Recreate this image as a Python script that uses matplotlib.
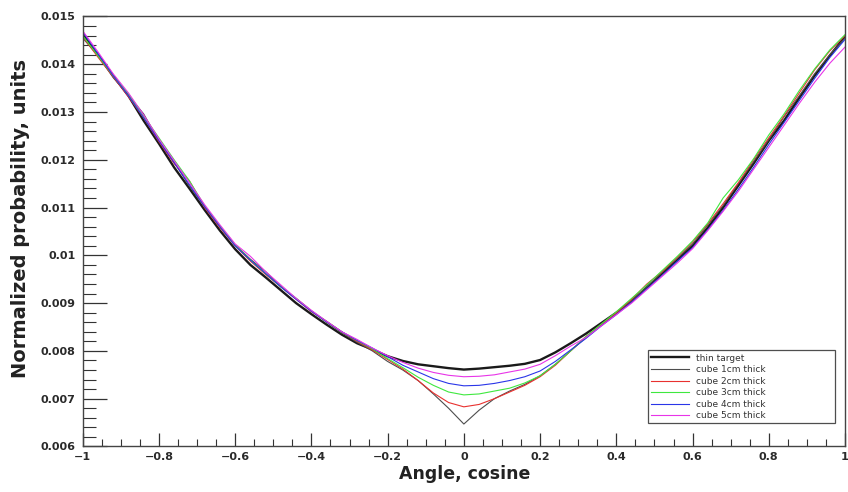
import numpy as np
import matplotlib
matplotlib.use("Agg")
import matplotlib.pyplot as plt
from matplotlib.ticker import MultipleLocator, FuncFormatter

# Bin centres of the angular distribution (cosine of the angle)
cos_angle = np.round(np.arange(-1.0, 1.0001, 0.04), 2)

thin_target = [
    0.01462, 0.01420, 0.01376, 0.01334, 0.01282, 0.01234, 0.01184, 0.01140, 0.01095, 0.01052,
    0.01013, 0.00980, 0.00954, 0.00927, 0.00900, 0.00877, 0.00855, 0.00834, 0.00816, 0.00803,
    0.00789, 0.00779, 0.00772, 0.00768, 0.00764, 0.00761, 0.00763, 0.00766, 0.00769, 0.00773,
    0.00781, 0.00797, 0.00816, 0.00836, 0.00858, 0.00880, 0.00904, 0.00933, 0.00962, 0.00990,
    0.01020, 0.01058, 0.01100, 0.01146, 0.01192, 0.01240, 0.01282, 0.01330, 0.01376, 0.01418,
    0.01458,
]
cube_1cm = [
    0.01455, 0.01418, 0.01372, 0.01335, 0.01296, 0.01240, 0.01195, 0.01145, 0.01102, 0.01060,
    0.01022, 0.00992, 0.00966, 0.00935, 0.00910, 0.00884, 0.00860, 0.00838, 0.00818, 0.00800,
    0.00778, 0.00760, 0.00738, 0.00710, 0.00680, 0.00647, 0.00676, 0.00700, 0.00716, 0.00730,
    0.00748, 0.00772, 0.00800, 0.00828, 0.00854, 0.00878, 0.00905, 0.00934, 0.00964, 0.00994,
    0.01024, 0.01064, 0.01104, 0.01150, 0.01196, 0.01242, 0.01290, 0.01334, 0.01380, 0.01420,
    0.01455,
]
cube_2cm = [
    0.01458, 0.01415, 0.01374, 0.01332, 0.01288, 0.01238, 0.01192, 0.01156, 0.01100, 0.01058,
    0.01020, 0.00988, 0.00960, 0.00934, 0.00908, 0.00882, 0.00862, 0.00840, 0.00820, 0.00802,
    0.00782, 0.00762, 0.00738, 0.00712, 0.00692, 0.00683, 0.00688, 0.00700, 0.00714, 0.00728,
    0.00746, 0.00770, 0.00800, 0.00830, 0.00855, 0.00880, 0.00908, 0.00940, 0.00966, 0.00996,
    0.01028, 0.01066, 0.01108, 0.01152, 0.01200, 0.01246, 0.01292, 0.01340, 0.01388, 0.01428,
    0.01460,
]
cube_3cm = [
    0.01460, 0.01418, 0.01376, 0.01338, 0.01292, 0.01246, 0.01200, 0.01156, 0.01104, 0.01062,
    0.01022, 0.00990, 0.00962, 0.00934, 0.00910, 0.00884, 0.00862, 0.00840, 0.00822, 0.00804,
    0.00784, 0.00765, 0.00745, 0.00728, 0.00714, 0.00708, 0.00710, 0.00716, 0.00722, 0.00733,
    0.00748, 0.00772, 0.00800, 0.00830, 0.00856, 0.00882, 0.00910, 0.00938, 0.00968, 0.00998,
    0.01030, 0.01068, 0.01120, 0.01158, 0.01202, 0.01252, 0.01296, 0.01345, 0.01390, 0.01430,
    0.01462,
]
cube_4cm = [
    0.01468, 0.01422, 0.01376, 0.01334, 0.01288, 0.01240, 0.01194, 0.01148, 0.01102, 0.01060,
    0.01020, 0.00990, 0.00962, 0.00934, 0.00908, 0.00883, 0.00861, 0.00840, 0.00822, 0.00806,
    0.00788, 0.00770, 0.00756, 0.00742, 0.00732, 0.00727, 0.00728, 0.00732, 0.00738, 0.00746,
    0.00758, 0.00778, 0.00802, 0.00826, 0.00852, 0.00876, 0.00902, 0.00930, 0.00958, 0.00988,
    0.01016, 0.01054, 0.01094, 0.01138, 0.01184, 0.01232, 0.01278, 0.01324, 0.01370, 0.01414,
    0.01452,
]
cube_5cm = [
    0.01470, 0.01426, 0.01380, 0.01340, 0.01294, 0.01244, 0.01198, 0.01152, 0.01106, 0.01064,
    0.01024, 0.00998, 0.00966, 0.00938, 0.00910, 0.00885, 0.00862, 0.00840, 0.00824, 0.00806,
    0.00790, 0.00776, 0.00764, 0.00755, 0.00749, 0.00746, 0.00747, 0.00750, 0.00756, 0.00762,
    0.00772, 0.00790, 0.00810, 0.00828, 0.00852, 0.00876, 0.00900, 0.00928, 0.00956, 0.00984,
    0.01014, 0.01052, 0.01092, 0.01134, 0.01180, 0.01226, 0.01272, 0.01318, 0.01362, 0.01402,
    0.01436,
]

series = [
    ("thin target", thin_target, "#1a1a1a", 1.7),
    ("cube 1cm thick", cube_1cm, "#4d4d4d", 0.8),
    ("cube 2cm thick", cube_2cm, "#e8312f", 0.8),
    ("cube 3cm thick", cube_3cm, "#3fe83f", 0.8),
    ("cube 4cm thick", cube_4cm, "#2a36e8", 0.8),
    ("cube 5cm thick", cube_5cm, "#e834e8", 0.8),
]

fig = plt.figure(figsize=(8.48, 4.92), dpi=100)
ax = fig.add_axes([0.0975, 0.0925, 0.899, 0.874])

for label, vals, color, lw in series:
    ax.plot(cos_angle, vals, color=color, lw=lw, label=label)

ax.set_xlim(-1, 1)
ax.set_ylim(0.006, 0.015)

ax.xaxis.set_major_locator(MultipleLocator(0.2))
ax.xaxis.set_minor_locator(MultipleLocator(0.05))
ax.yaxis.set_major_locator(MultipleLocator(0.001))
ax.yaxis.set_minor_locator(MultipleLocator(0.0002))


def fmt_x(v, _):
    v = round(v, 2)
    if abs(v) < 1e-9:
        return "0"
    if abs(abs(v) - 1) < 1e-9:
        return "\u22121" if v < 0 else "1"
    s = f"{abs(v):g}"
    return ("\u2212" if v < 0 else "") + s


def fmt_y(v, _):
    return f"{v:.3f}".rstrip("0") if round(v, 4) == 0.01 else f"{v:.3f}"


ax.xaxis.set_major_formatter(FuncFormatter(fmt_x))
ax.yaxis.set_major_formatter(FuncFormatter(fmt_y))

tick_color = "#333333"
ax.tick_params(axis="y", which="major", direction="in", length=17, width=0.9,
               color=tick_color, pad=5)
ax.tick_params(axis="y", which="minor", direction="in", length=9, width=0.8,
               color=tick_color)
ax.tick_params(axis="x", which="major", direction="in", length=9.5, width=0.9,
               color=tick_color, pad=4)
ax.tick_params(axis="x", which="minor", direction="in", length=5, width=0.8,
               color=tick_color)
for lab in ax.get_xticklabels() + ax.get_yticklabels():
    lab.set_fontfamily("DejaVu Sans")
    lab.set_fontweight("bold")
    lab.set_fontsize(8)
    lab.set_color("#2a2a2a")

for side in ["left", "bottom", "top", "right"]:
    ax.spines[side].set_color("#444444")
    ax.spines[side].set_linewidth(1.0)

fig.text(0.548, 0.018, "Angle, cosine", ha="center", va="bottom",
         fontsize=12.5, fontweight="bold", color="#222222", family="DejaVu Sans")
fig.text(0.024, 0.555, "Normalized probability, units", ha="center", va="center",
         rotation=90, fontsize=14, fontweight="bold", color="#222222",
         family="DejaVu Sans")

leg = ax.legend(loc="lower left", bbox_to_anchor=(0.7415, 0.0536, 0.2455, 0.1865),
                mode="expand", fontsize=6.5, frameon=True, fancybox=False,
                borderpad=0.35, labelspacing=0.28, handlelength=4.2,
                handletextpad=0.8, borderaxespad=0)
leg.get_frame().set_edgecolor("#222222")
leg.get_frame().set_linewidth(0.9)
for t in leg.get_texts():
    t.set_color("#333333")

fig.savefig("out.png", dpi=100)
